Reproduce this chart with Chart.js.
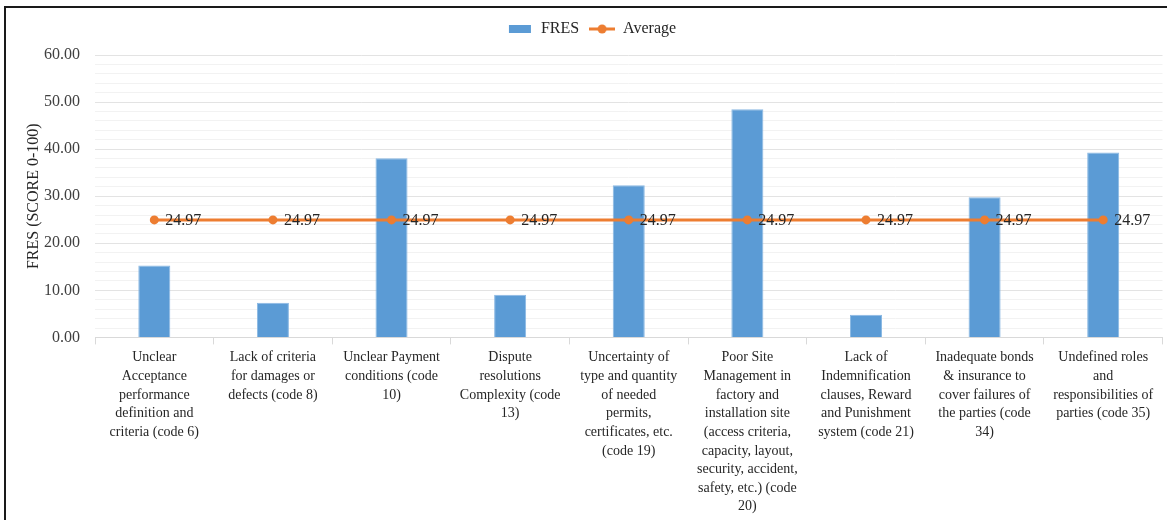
<!DOCTYPE html>
<html>
<head>
<meta charset="utf-8">
<script src="https://cdn.jsdelivr.net/npm/chart.js@4"></script>
<style>
  body { margin: 0; background: #fff; }
  #wrap { position: relative; width: 1167px; height: 520px; }
  #frame { position: absolute; left: 4px; top: 6px; width: 1170px; height: 530px; border: 2px solid #1a1a1a; box-sizing: border-box; pointer-events: none; }
</style>
</head>
<body>
<div id="wrap">
  <canvas id="riskChart" width="1167" height="520"></canvas>
  <div id="frame"></div>
</div>
<script>
// kategorie (podpisy osi X, już połamane na linie)
const categories = [
  ['Unclear', 'Acceptance', 'performance', 'definition and', 'criteria (code 6)'],
  ['Lack of criteria', 'for damages or', 'defects (code 8)'],
  ['Unclear Payment', 'conditions (code', '10)'],
  ['Dispute', 'resolutions', 'Complexity (code', '13)'],
  ['Uncertainty of', 'type and quantity', 'of needed', 'permits,', 'certificates, etc.', '(code 19)'],
  ['Poor Site', 'Management in', 'factory and', 'installation site', '(access criteria,', 'capacity, layout,', 'security, accident,', 'safety, etc.) (code', '20)'],
  ['Lack of', 'Indemnification', 'clauses, Reward', 'and Punishment', 'system (code 21)'],
  ['Inadequate bonds', '& insurance to', 'cover failures of', 'the parties (code', '34)'],
  ['Undefined roles', 'and', 'responsibilities of', 'parties (code 35)']
];
const fresValues = [15.30, 7.35, 38.05, 9.05, 32.35, 48.45, 4.80, 29.80, 39.30];
const averageValues = [24.97, 24.97, 24.97, 24.97, 24.97, 24.97, 24.97, 24.97, 24.97];

const BLUE = '#5B9BD5';
const ORANGE = '#ED7D31';
const FONT = '"Liberation Serif", "Times New Roman", serif';

// małe ikonki do legendy
function legendIcon(kind) {
  const c = document.createElement('canvas');
  c.width = 26; c.height = 12;
  const g = c.getContext('2d');
  if (kind === 'bar') {
    g.fillStyle = BLUE;
    g.fillRect(2, 2, 22, 8);
  } else {
    g.strokeStyle = ORANGE; g.lineWidth = 3;
    g.beginPath(); g.moveTo(0, 6); g.lineTo(26, 6); g.stroke();
    g.fillStyle = ORANGE;
    g.beginPath(); g.arc(13, 6, 4.5, 0, Math.PI * 2); g.fill();
  }
  return c;
}
const icons = [legendIcon('bar'), legendIcon('line')];

// trochę więcej miejsca pod legendą
const legendGap = {
  id: 'legendGap',
  beforeInit(chart) {
    const fit = chart.legend.fit;
    chart.legend.fit = function () {
      fit.bind(chart.legend)();
      this.height += 8;
    };
  }
};

// etykiety 24.97 obok punktów
const avgLabels = {
  id: 'avgLabels',
  afterDatasetsDraw(chart) {
    const meta = chart.getDatasetMeta(1);
    const g = chart.ctx;
    g.save();
    g.font = '16px ' + FONT;
    g.fillStyle = '#262626';
    g.textAlign = 'left';
    g.textBaseline = 'middle';
    meta.data.forEach((pt, i) => {
      g.fillText(averageValues[i].toFixed(2), pt.x + 11, pt.y + 1);
    });
    g.restore();
  }
};

const ctx = document.getElementById('riskChart').getContext('2d');
const riskChart = new Chart(ctx, {
  data: {
    labels: categories,
    datasets: [{
      type: 'bar',
      label: 'FRES',
      data: fresValues,
      backgroundColor: BLUE,
      borderColor: '#8ab8e3',
      borderWidth: 1,
      barPercentage: 0.27,
      categoryPercentage: 1,
      order: 2
    }, {
      type: 'line',
      label: 'Average',
      data: averageValues,
      borderColor: ORANGE,
      backgroundColor: ORANGE,
      borderWidth: 3,
      pointRadius: 4.5,
      pointHoverRadius: 4.5,
      pointBorderWidth: 0,
      order: 1
    }]
  },
  options: {
    responsive: false,
    animation: false,
    layout: { padding: { left: 20, right: 4, top: 11, bottom: 0 } },
    plugins: {
      tooltip: { enabled: false },
      legend: {
        position: 'top',
        labels: {
          font: { family: FONT, size: 16 },
          color: '#262626',
          usePointStyle: true,
          pointStyleWidth: 26,
          boxHeight: 12,
          padding: 10,
          generateLabels(chart) {
            return chart.data.datasets.map((ds, i) => ({
              text: ds.label,
              pointStyle: icons[i],
              fillStyle: 'transparent',
              strokeStyle: 'transparent',
              lineWidth: 0,
              datasetIndex: i,
              fontColor: '#262626'
            }));
          }
        }
      }
    },
    scales: {
      x: {
        grid: { offset: true, drawOnChartArea: false, drawTicks: true, tickLength: 7, color: '#d9d9d9' },
        border: { color: '#d9d9d9' },
        ticks: {
          font: { family: FONT, size: 14, lineHeight: 1.33 },
          color: '#262626',
          maxRotation: 0,
          autoSkip: false,
          padding: 4
        }
      },
      y: {
        min: 0,
        max: 60,
        afterFit(scale) { scale.width = 75; },
        border: { display: false },
        grid: {
          drawTicks: false,
          color: (c) => (c.tick && c.tick.value % 10 === 0) ? '#e3e3e3' : '#f2f2f2'
        },
        ticks: {
          stepSize: 2,
          autoSkip: false,
          padding: 15,
          font: { family: FONT, size: 16 },
          color: '#404040',
          callback: (v) => (v % 10 === 0 ? v.toFixed(2) : '')
        },
        title: {
          display: true,
          text: 'FRES (SCORE 0-100)',
          font: { family: FONT, size: 16 },
          color: '#262626'
        }
      }
    }
  },
  plugins: [legendGap, avgLabels]
});
</script>
</body>
</html>
